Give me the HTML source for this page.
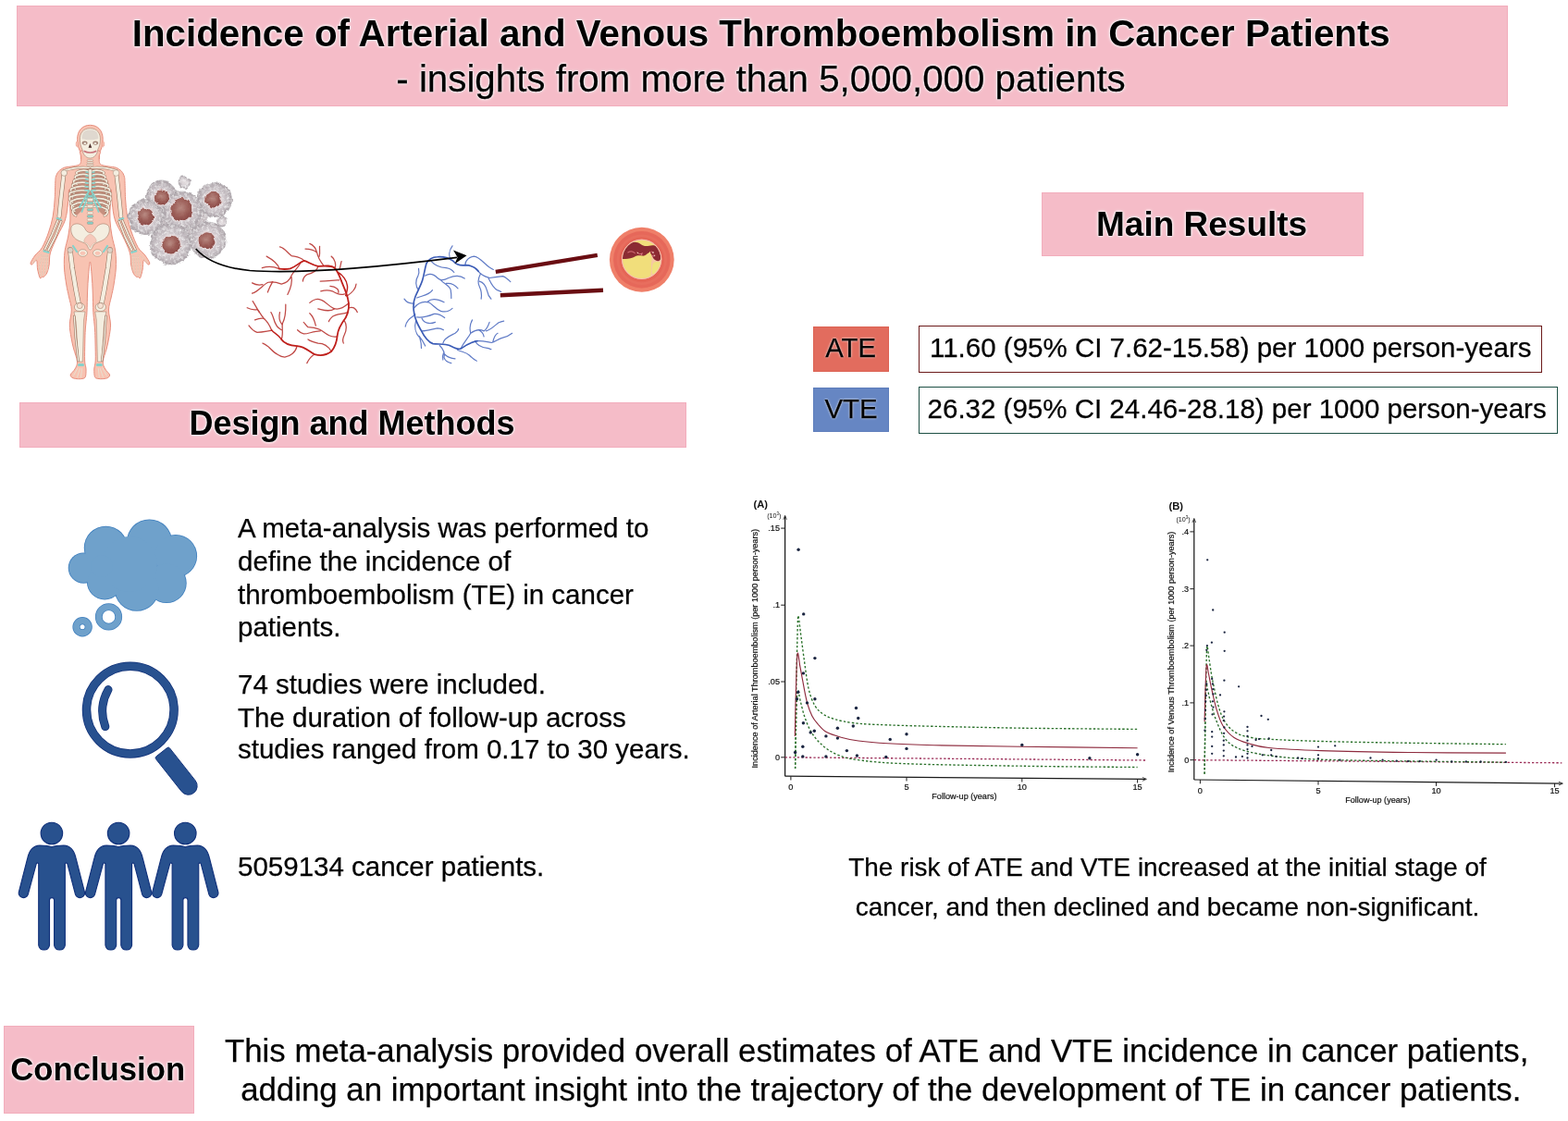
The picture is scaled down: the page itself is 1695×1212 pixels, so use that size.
<!DOCTYPE html>
<html lang="en">
<head>
<meta charset="utf-8">
<title>Incidence of Arterial and Venous Thromboembolism in Cancer Patients</title>
<style>
html,body{margin:0;padding:0;background:#fff;}
body{width:1695px;height:1212px;overflow:hidden;position:relative;font-family:"Liberation Sans",Arial,Helvetica,sans-serif;color:#000;}
#page{position:absolute;left:0;top:0;width:1695px;height:1212px;overflow:hidden;background:#fff;}
.abs{position:absolute;white-space:nowrap;}
.pink{position:absolute;background:#f5bcc8;box-shadow:inset 0 0 0 1px #f2adbc;}
.glow{text-shadow:0 0 1px #fff,0 0 2px #fff,0 0 3px #fff,0 0 4px rgba(255,255,255,.7);}
.glow2{text-shadow:0 0 1.5px rgba(255,255,255,.9),0 0 3px rgba(255,255,255,.6);}
.c{text-align:center;}
#gfx{position:absolute;left:0;top:0;width:1695px;height:1212px;}
.t{position:absolute;white-space:nowrap;line-height:1;}
.r{-webkit-text-stroke:0.25px #000;}
</style>
</head>
<body>
<div id="page">

<!-- title banner -->
<div class="pink" style="left:17.7px;top:6.4px;width:1612px;height:109.1px;"></div>
<div class="t glow c" style="left:16.8px;width:1612px;top:16.5px;font-size:40.3px;font-weight:bold;">Incidence of Arterial and Venous Thromboembolism in Cancer Patients</div>
<div class="t glow c r" style="left:16.5px;width:1612px;top:66px;font-size:40.3px;">- insights from more than 5,000,000 patients</div>

<!-- main results -->
<div class="pink" style="left:1125.6px;top:207.8px;width:348.8px;height:69.5px;"></div>
<div class="t glow c" style="left:1124.6px;width:349px;top:223.6px;font-size:37px;font-weight:bold;">Main Results</div>

<!-- design and methods -->
<div class="pink" style="left:21px;top:435px;width:721px;height:48.6px;"></div>
<div class="t glow c" style="left:20px;width:721px;top:439.6px;font-size:36px;font-weight:bold;">Design and Methods</div>

<!-- ATE / VTE -->
<div class="abs" style="left:879px;top:353px;width:82px;height:49px;background:#e26c5e;box-shadow:inset 0 0 0 1px #dc6253;"></div>
<div class="t glow2 c r" style="left:878.6px;width:82px;top:360.8px;font-size:29.3px;">ATE</div>
<div class="abs" style="left:879px;top:418.6px;width:82px;height:48.8px;background:#6686c3;box-shadow:inset 0 0 0 1px #5d7dbb;"></div>
<div class="t glow2 c r" style="left:879px;width:82px;top:427px;font-size:29.4px;">VTE</div>

<div class="abs" style="left:993px;top:352px;width:674px;height:51px;box-sizing:border-box;border:1.6px solid #6b1a1a;background:#fff;"></div>
<div class="t r" style="left:1005px;top:361px;font-size:29.5px;">11.60 (95% CI 7.62-15.58) per 1000 person-years</div>
<div class="abs" style="left:993px;top:417.8px;width:691px;height:51px;box-sizing:border-box;border:1.6px solid #1d4f44;background:#fff;"></div>
<div class="t r" style="left:1002.6px;top:427px;font-size:29.5px;">26.32 (95% CI 24.46-28.18) per 1000 person-years</div>

<!-- methods text -->
<div class="t r" style="left:257px;top:556px;font-size:29.5px;">A meta-analysis was performed to</div>
<div class="t r" style="left:257px;top:592px;font-size:29.5px;">define the incidence of</div>
<div class="t r" style="left:257px;top:628px;font-size:29.5px;">thromboembolism (TE) in cancer</div>
<div class="t r" style="left:257px;top:663px;font-size:29.5px;">patients.</div>

<div class="t r" style="left:257px;top:725px;font-size:29.5px;">74 studies were included.</div>
<div class="t r" style="left:257px;top:761px;font-size:29.5px;">The duration of follow-up across</div>
<div class="t r" style="left:257px;top:795px;font-size:29.5px;">studies ranged from 0.17 to 30 years.</div>

<div class="t r" style="left:257px;top:922px;font-size:29.5px;">5059134 cancer patients.</div>

<!-- results caption -->
<div class="t c r" style="left:862px;width:800px;top:924px;font-size:27.9px;">The risk of ATE and VTE increased at the initial stage of</div>
<div class="t c r" style="left:862px;width:800px;top:966.8px;font-size:27.9px;">cancer, and then declined and became non-significant.</div>

<!-- conclusion -->
<div class="pink" style="left:4.2px;top:1109.4px;width:205.4px;height:94.3px;"></div>
<div class="t glow c" style="left:3.2px;width:205px;top:1139.2px;font-size:34.7px;font-weight:bold;">Conclusion</div>
<div class="t c r" style="left:243px;width:1400px;top:1118.8px;font-size:34.8px;">This meta-analysis provided overall estimates of ATE and VTE incidence in cancer patients,</div>
<div class="t c r" style="left:252.3px;width:1400px;top:1160.8px;font-size:34.8px;">adding an important insight into the trajectory of the development of TE in cancer patients.</div>

<svg id="gfx" viewBox="0 0 1695 1212" width="1695" height="1212">
<!-- thought cloud -->
<g id="cloud">
  <g fill="#3f7fbe">
    <circle cx="90.3" cy="614.1" r="16.6"/><circle cx="114.4" cy="592.3" r="23.6"/><circle cx="161.5" cy="586" r="24.6"/>
    <circle cx="189.9" cy="601.2" r="23.2"/><circle cx="180" cy="630.4" r="21.7"/><circle cx="147.8" cy="636.6" r="24.2"/><circle cx="113.2" cy="629.2" r="19.3"/>
  </g>
  <g fill="#6fa1cb">
    <circle cx="90.3" cy="614.1" r="15.8"/><circle cx="114.4" cy="592.3" r="22.8"/><circle cx="161.5" cy="586" r="23.8"/>
    <circle cx="189.9" cy="601.2" r="22.4"/><circle cx="180" cy="630.4" r="20.9"/><circle cx="147.8" cy="636.6" r="23.4"/><circle cx="113.2" cy="629.2" r="18.5"/>
    <circle cx="140" cy="610" r="30"/><circle cx="110" cy="612" r="12"/>
  </g>
  <circle cx="117.5" cy="666.9" r="10.7" fill="none" stroke="#3f7fbe" stroke-width="7.8"/>
  <circle cx="117.5" cy="666.9" r="10.7" fill="none" stroke="#6fa1cb" stroke-width="6.4"/>
  <circle cx="89.1" cy="677.8" r="6.6" fill="none" stroke="#3f7fbe" stroke-width="8.2"/>
  <circle cx="89.1" cy="677.8" r="6.6" fill="none" stroke="#6fa1cb" stroke-width="6.8"/>
</g>
<!-- magnifier -->
<g id="magnifier">
  <circle cx="140.8" cy="767.6" r="47.3" fill="none" stroke="#12327a" stroke-width="9.5"/>
  <circle cx="140.8" cy="767.6" r="47.3" fill="none" stroke="#28518f" stroke-width="8"/>
  <path d="M117,745.6 A47.7,47.7 0 0 0 113.8,785.6" fill="none" stroke="#12327a" stroke-width="9" stroke-linecap="round"/>
  <path d="M117,745.6 A47.7,47.7 0 0 0 113.8,785.6" fill="none" stroke="#28518f" stroke-width="7.4" stroke-linecap="round"/>
  <g transform="translate(174.8,813.2) rotate(51.7)">
    <path d="M0,-7.5 Q0,-9.5 2,-9.5 L46.6,-9.5 A9.5,9.5 0 0 1 46.6,9.5 L2,9.5 Q0,9.5 0,7.5 Z" fill="#28518f" stroke="#12327a" stroke-width="0.9"/>
  </g>
</g>
<!-- people -->
<defs>
  <g id="person">
    <circle cx="0" cy="148" r="83"/>
    <path d="M0,252 C-30,240 -60,240 -92,240 C-140,242 -172,280 -184,335 L-250,592 A36,36 0 0 0 -181,615 L-118,382 A9,9 0 0 1 -100,386 L-100,1003 A42,42 0 0 0 -17,1003 L-17,658 A18,18 0 0 1 19,658 L19,1003 A42,42 0 0 0 102,1003 L102,386 A9,9 0 0 1 120,382 L181,615 A36,36 0 0 0 250,592 L184,335 C172,280 140,242 92,240 C60,240 30,240 0,252 Z"/>
  </g>
</defs>
<g id="people" fill="#28518e" stroke="#10307a" stroke-width="8" stroke-linejoin="round">
  <use href="#person" transform="translate(55.9,880) scale(0.14159)"/>
  <use href="#person" transform="translate(128.1,880) scale(0.14159)"/>
  <use href="#person" transform="translate(200.3,880) scale(0.14159)"/>
</g>

<g id="human">
<path d="M97.4,135.3 C106,135.3 111.2,141.5 111.2,150.5 C111.2,157 109.6,161 107.6,165 L107.4,172 L87.4,172 L87.2,165 C85.2,161 83.6,157 83.6,150.5 C83.6,141.5 88.8,135.3 97.4,135.3Z" fill="#f8c3b2" stroke="#e78f7e" stroke-width="1"/>
<ellipse cx="83.4" cy="155.8" rx="1.2" ry="3" fill="#f8c4b4" stroke="#ec9a88" stroke-width="0.7"/>
<ellipse cx="111.4" cy="155.8" rx="1.2" ry="3" fill="#f8c4b4" stroke="#ec9a88" stroke-width="0.7"/>
<path d="M87.8,163.0C84.6,164.0 87.8,167.1 87.7,169.0C87.7,170.9 87.9,173.0 87.5,174.5C87.1,176.0 87.2,177.3 85.4,178.2C83.7,179.1 79.7,179.5 77.0,180.0C74.3,180.5 71.8,180.3 69.5,181.2C67.2,182.1 64.9,183.6 63.4,185.2C61.9,186.8 61.0,189.0 60.4,191.0C59.8,193.0 60.0,193.0 59.8,197.0C59.6,201.0 59.6,208.8 59.2,215.0C58.8,221.2 58.3,228.0 57.2,234.0C56.1,240.0 54.5,245.4 52.6,251.0C50.7,256.6 48.0,263.3 45.6,267.5C43.2,271.7 40.1,273.2 38.0,276.0C35.9,278.8 33.8,282.3 33.2,284.0C32.6,285.7 33.6,286.4 34.6,286.0C35.6,285.6 38.5,280.7 39.5,281.5C40.5,282.3 40.0,287.8 40.6,291.0C41.2,294.2 42.4,299.1 43.2,300.5C44.0,301.9 44.5,299.7 45.2,299.5C45.9,299.3 46.6,299.9 47.5,299.2C48.4,298.4 49.8,297.2 50.8,295.0C51.8,292.8 52.6,289.7 53.2,286.0C53.8,282.3 53.0,278.2 54.5,273.0C56.0,267.8 59.6,260.8 62.2,255.0C64.9,249.2 68.5,243.8 70.4,238.0C72.3,232.2 72.8,225.5 73.5,220.0C74.2,214.5 74.2,204.7 74.6,205.0C74.9,205.3 75.4,216.5 75.6,222.0C75.8,227.5 76.2,232.5 75.9,238.0C75.6,243.5 74.8,249.3 73.8,255.0C72.8,260.7 70.7,266.2 70.0,272.0C69.3,277.8 69.2,284.0 69.5,290.0C69.8,296.0 71.0,302.8 71.8,308.0C72.6,313.2 73.6,316.5 74.5,321.0C75.4,325.5 77.2,330.0 77.3,335.0C77.4,340.0 75.3,346.0 75.3,351.0C75.2,356.0 76.3,360.7 77.0,365.0C77.7,369.3 78.5,372.7 79.6,377.0C80.7,381.3 83.3,387.3 83.5,391.0C83.7,394.7 82.2,396.7 81.0,399.0C79.8,401.3 76.8,403.4 76.3,405.0C75.8,406.6 76.9,407.5 78.0,408.3C79.1,409.1 81.2,409.4 83.0,409.6C84.8,409.8 87.5,409.8 89.0,409.4C90.5,409.0 91.6,409.2 92.3,407.5C93.0,405.8 93.1,401.9 93.0,399.0C92.9,396.1 91.8,394.8 91.6,390.0C91.4,385.2 91.7,375.7 91.8,370.0C91.9,364.3 92.0,361.0 92.3,356.0C92.6,351.0 93.5,344.3 93.8,340.0C94.1,335.7 94.1,334.2 94.2,330.0C94.3,325.8 94.4,320.3 94.6,315.0C94.8,309.7 95.1,303.3 95.6,298.0C96.1,292.7 96.8,283.0 97.4,283.0C98.0,283.0 98.7,292.7 99.2,298.0C99.7,303.3 100.0,309.7 100.2,315.0C100.4,320.3 100.5,325.8 100.6,330.0C100.7,334.2 100.7,335.7 101.0,340.0C101.3,344.3 102.2,351.0 102.5,356.0C102.8,361.0 102.9,364.3 103.0,370.0C103.1,375.7 103.4,385.2 103.2,390.0C103.0,394.8 101.9,396.1 101.8,399.0C101.7,401.9 101.8,405.8 102.5,407.5C103.2,409.2 104.3,409.0 105.8,409.4C107.4,409.8 110.0,409.8 111.8,409.6C113.6,409.4 115.7,409.1 116.8,408.3C117.9,407.5 119.0,406.6 118.5,405.0C118.0,403.4 115.0,401.3 113.8,399.0C112.6,396.7 111.1,394.7 111.3,391.0C111.5,387.3 114.1,381.3 115.2,377.0C116.3,372.7 117.1,369.3 117.8,365.0C118.5,360.7 119.6,356.0 119.5,351.0C119.5,346.0 117.4,340.0 117.5,335.0C117.6,330.0 119.4,325.5 120.3,321.0C121.2,316.5 122.2,313.2 123.0,308.0C123.8,302.8 125.0,296.0 125.3,290.0C125.6,284.0 125.5,277.8 124.8,272.0C124.1,266.2 122.0,260.7 121.0,255.0C120.0,249.3 119.2,243.5 118.9,238.0C118.6,232.5 119.0,227.5 119.2,222.0C119.4,216.5 119.9,205.3 120.2,205.0C120.6,204.7 120.6,214.5 121.3,220.0C122.0,225.5 122.5,232.2 124.4,238.0C126.3,243.8 130.0,249.2 132.6,255.0C135.3,260.8 138.8,267.8 140.3,273.0C141.8,278.2 141.0,282.3 141.6,286.0C142.2,289.7 143.1,292.8 144.0,295.0C144.9,297.2 146.4,298.4 147.3,299.2C148.2,299.9 148.9,299.3 149.6,299.5C150.3,299.7 150.8,301.9 151.6,300.5C152.4,299.1 153.6,294.2 154.2,291.0C154.8,287.8 154.3,282.3 155.3,281.5C156.3,280.7 159.2,285.6 160.2,286.0C161.3,286.4 162.2,285.7 161.6,284.0C161.0,282.3 158.9,278.8 156.8,276.0C154.7,273.2 151.6,271.7 149.2,267.5C146.8,263.3 144.1,256.6 142.2,251.0C140.3,245.4 138.7,240.0 137.6,234.0C136.5,228.0 136.0,221.2 135.6,215.0C135.2,208.8 135.2,201.0 135.0,197.0C134.8,193.0 135.0,193.0 134.4,191.0C133.8,189.0 132.9,186.8 131.4,185.2C129.9,183.6 127.6,182.1 125.3,181.2C123.0,180.3 120.5,180.5 117.8,180.0C115.2,179.5 111.2,179.1 109.4,178.2C107.7,177.3 107.7,176.0 107.3,174.5C106.9,173.0 107.2,170.9 107.1,169.0C107.1,167.1 110.2,164.0 107.0,163.0C103.8,162.0 91.0,162.0 87.8,163.0Z" fill="#f8c3b2" stroke="#e78f7e" stroke-width="1" stroke-linejoin="round"/>
<g><path d="M97.4,138.8 C105,138.8 108.6,144 108.4,151 C108.3,155.5 107.4,158.5 105.8,161.5 C105.4,166 102.4,171 97.4,171 C92.4,171 89.4,166 89,161.5 C87.4,158.5 86.5,155.5 86.4,151 C86.2,144 89.8,138.8 97.4,138.8Z" fill="#f4eee0" stroke="#94705c" stroke-width="0.5"/>
<ellipse cx="91.6" cy="154.6" rx="2.9" ry="2.1" fill="#a08274"/><ellipse cx="103.2" cy="154.6" rx="2.9" ry="2.1" fill="#a08274"/><ellipse cx="91.8" cy="155" rx="1.5" ry="1" fill="#f3ede0"/><ellipse cx="103" cy="155" rx="1.5" ry="1" fill="#f3ede0"/>
<path d="M97.4,155 L95.6,159.8 L99.2,159.8Z" fill="#4a2a26"/>
<path d="M90.5,163.2 Q97.4,166.8 104.3,163.2" fill="none" stroke="#c9727a" stroke-width="1.6"/>
<path d="M88.5,150 C88.5,142 92,140.5 97.4,140.5 C102.8,140.5 106.3,142 106.3,150 Q97.4,152.5 88.5,150Z" fill="#ddd5cd" opacity="0.9"/>
<rect x="94.2" y="172.6" width="6.4" height="1.7" rx="0.8" fill="#f4eee0" stroke="#94705c" stroke-width="0.35"/>
<rect x="93.9" y="175" width="7.0" height="1.7" rx="0.8" fill="#f4eee0" stroke="#94705c" stroke-width="0.35"/>
<rect x="93.6" y="177.4" width="7.6" height="1.7" rx="0.8" fill="#f4eee0" stroke="#94705c" stroke-width="0.35"/>
<rect x="93.3" y="179.8" width="8.2" height="1.7" rx="0.8" fill="#f4eee0" stroke="#94705c" stroke-width="0.35"/>
<path d="M96,181.5 Q84,180 69,184.5" fill="none" stroke="#94705c" stroke-width="2.6" stroke-linecap="round"/><path d="M96,181.5 Q84,180 69,184.5" fill="none" stroke="#f4eee0" stroke-width="1.8" stroke-linecap="round"/>
<path d="M99,181.5 Q111,180 126,184.5" fill="none" stroke="#94705c" stroke-width="2.6" stroke-linecap="round"/><path d="M99,181.5 Q111,180 126,184.5" fill="none" stroke="#f4eee0" stroke-width="1.8" stroke-linecap="round"/>
<path d="M97.5,182 C86,182 78,190 76.5,205 C75.5,218 78,228 82,233 C88,230 93,222 97.5,212 C102,222 107,230 113,233 C117,228 119.5,218 118.5,205 C117,190 109,182 97.5,182Z" fill="#b07a69" opacity="0.7"/>
<path d="M95.3,185.0 Q89.2,182.8 83.0,186.1 Q81.5,188.0 86.0,189.5" fill="none" stroke="#94705c" stroke-width="2.5" stroke-linecap="round"/>
<path d="M95.3,185.0 Q89.2,182.8 83.0,186.1 Q81.5,188.0 86.0,189.5" fill="none" stroke="#f4eee0" stroke-width="1.7" stroke-linecap="round"/>
<path d="M99.7,185.0 Q105.8,182.8 112.0,186.1 Q113.5,188.0 109.0,189.5" fill="none" stroke="#94705c" stroke-width="2.5" stroke-linecap="round"/>
<path d="M99.7,185.0 Q105.8,182.8 112.0,186.1 Q113.5,188.0 109.0,189.5" fill="none" stroke="#f4eee0" stroke-width="1.7" stroke-linecap="round"/>
<path d="M95.3,189.3 Q88.4,187.1 81.5,190.5 Q80.0,192.9 84.5,194.4" fill="none" stroke="#94705c" stroke-width="2.5" stroke-linecap="round"/>
<path d="M95.3,189.3 Q88.4,187.1 81.5,190.5 Q80.0,192.9 84.5,194.4" fill="none" stroke="#f4eee0" stroke-width="1.7" stroke-linecap="round"/>
<path d="M99.7,189.3 Q106.6,187.1 113.5,190.5 Q115.0,192.9 110.5,194.4" fill="none" stroke="#94705c" stroke-width="2.5" stroke-linecap="round"/>
<path d="M99.7,189.3 Q106.6,187.1 113.5,190.5 Q115.0,192.9 110.5,194.4" fill="none" stroke="#f4eee0" stroke-width="1.7" stroke-linecap="round"/>
<path d="M95.3,193.6 Q87.7,191.4 80.0,195.0 Q78.5,197.7 83.0,199.2" fill="none" stroke="#94705c" stroke-width="2.5" stroke-linecap="round"/>
<path d="M95.3,193.6 Q87.7,191.4 80.0,195.0 Q78.5,197.7 83.0,199.2" fill="none" stroke="#f4eee0" stroke-width="1.7" stroke-linecap="round"/>
<path d="M99.7,193.6 Q107.3,191.4 115.0,195.0 Q116.5,197.7 112.0,199.2" fill="none" stroke="#94705c" stroke-width="2.5" stroke-linecap="round"/>
<path d="M99.7,193.6 Q107.3,191.4 115.0,195.0 Q116.5,197.7 112.0,199.2" fill="none" stroke="#f4eee0" stroke-width="1.7" stroke-linecap="round"/>
<path d="M95.3,197.9 Q86.9,195.7 78.5,199.5 Q77.0,202.6 81.5,204.1" fill="none" stroke="#94705c" stroke-width="2.5" stroke-linecap="round"/>
<path d="M95.3,197.9 Q86.9,195.7 78.5,199.5 Q77.0,202.6 81.5,204.1" fill="none" stroke="#f4eee0" stroke-width="1.7" stroke-linecap="round"/>
<path d="M99.7,197.9 Q108.1,195.7 116.5,199.5 Q118.0,202.6 113.5,204.1" fill="none" stroke="#94705c" stroke-width="2.5" stroke-linecap="round"/>
<path d="M99.7,197.9 Q108.1,195.7 116.5,199.5 Q118.0,202.6 113.5,204.1" fill="none" stroke="#f4eee0" stroke-width="1.7" stroke-linecap="round"/>
<path d="M95.3,202.2 Q86.2,200.0 77.0,204.0 Q75.5,207.4 80.0,208.9" fill="none" stroke="#94705c" stroke-width="2.5" stroke-linecap="round"/>
<path d="M95.3,202.2 Q86.2,200.0 77.0,204.0 Q75.5,207.4 80.0,208.9" fill="none" stroke="#f4eee0" stroke-width="1.7" stroke-linecap="round"/>
<path d="M99.7,202.2 Q108.8,200.0 118.0,204.0 Q119.5,207.4 115.0,208.9" fill="none" stroke="#94705c" stroke-width="2.5" stroke-linecap="round"/>
<path d="M99.7,202.2 Q108.8,200.0 118.0,204.0 Q119.5,207.4 115.0,208.9" fill="none" stroke="#f4eee0" stroke-width="1.7" stroke-linecap="round"/>
<path d="M95.3,206.5 Q85.4,204.3 75.5,208.5 Q74.0,212.2 78.5,213.8" fill="none" stroke="#94705c" stroke-width="2.5" stroke-linecap="round"/>
<path d="M95.3,206.5 Q85.4,204.3 75.5,208.5 Q74.0,212.2 78.5,213.8" fill="none" stroke="#f4eee0" stroke-width="1.7" stroke-linecap="round"/>
<path d="M99.7,206.5 Q109.6,204.3 119.5,208.5 Q121.0,212.2 116.5,213.8" fill="none" stroke="#94705c" stroke-width="2.5" stroke-linecap="round"/>
<path d="M99.7,206.5 Q109.6,204.3 119.5,208.5 Q121.0,212.2 116.5,213.8" fill="none" stroke="#f4eee0" stroke-width="1.7" stroke-linecap="round"/>
<path d="M95.3,210.8 Q85.4,208.6 75.5,213.0 Q74.0,217.1 78.5,218.6" fill="none" stroke="#94705c" stroke-width="2.5" stroke-linecap="round"/>
<path d="M95.3,210.8 Q85.4,208.6 75.5,213.0 Q74.0,217.1 78.5,218.6" fill="none" stroke="#f4eee0" stroke-width="1.7" stroke-linecap="round"/>
<path d="M99.7,210.8 Q109.6,208.6 119.5,213.0 Q121.0,217.1 116.5,218.6" fill="none" stroke="#94705c" stroke-width="2.5" stroke-linecap="round"/>
<path d="M99.7,210.8 Q109.6,208.6 119.5,213.0 Q121.0,217.1 116.5,218.6" fill="none" stroke="#f4eee0" stroke-width="1.7" stroke-linecap="round"/>
<path d="M95.3,215.1 Q86.0,212.9 76.7,217.5 Q75.2,221.9 79.7,223.4" fill="none" stroke="#94705c" stroke-width="2.5" stroke-linecap="round"/>
<path d="M95.3,215.1 Q86.0,212.9 76.7,217.5 Q75.2,221.9 79.7,223.4" fill="none" stroke="#f4eee0" stroke-width="1.7" stroke-linecap="round"/>
<path d="M99.7,215.1 Q109.0,212.9 118.3,217.5 Q119.8,221.9 115.3,223.4" fill="none" stroke="#94705c" stroke-width="2.5" stroke-linecap="round"/>
<path d="M99.7,215.1 Q109.0,212.9 118.3,217.5 Q119.8,221.9 115.3,223.4" fill="none" stroke="#f4eee0" stroke-width="1.7" stroke-linecap="round"/>
<path d="M95.3,219.4 Q86.6,217.2 77.9,222.0 Q76.4,226.8 80.9,228.3" fill="none" stroke="#94705c" stroke-width="2.5" stroke-linecap="round"/>
<path d="M95.3,219.4 Q86.6,217.2 77.9,222.0 Q76.4,226.8 80.9,228.3" fill="none" stroke="#f4eee0" stroke-width="1.7" stroke-linecap="round"/>
<path d="M99.7,219.4 Q108.4,217.2 117.1,222.0 Q118.6,226.8 114.1,228.3" fill="none" stroke="#94705c" stroke-width="2.5" stroke-linecap="round"/>
<path d="M99.7,219.4 Q108.4,217.2 117.1,222.0 Q118.6,226.8 114.1,228.3" fill="none" stroke="#f4eee0" stroke-width="1.7" stroke-linecap="round"/>
<path d="M95.3,223.7 Q87.2,221.5 79.1,226.5 Q77.6,231.6 82.1,233.1" fill="none" stroke="#94705c" stroke-width="2.5" stroke-linecap="round"/>
<path d="M95.3,223.7 Q87.2,221.5 79.1,226.5 Q77.6,231.6 82.1,233.1" fill="none" stroke="#f4eee0" stroke-width="1.7" stroke-linecap="round"/>
<path d="M99.7,223.7 Q107.8,221.5 115.9,226.5 Q117.4,231.6 112.9,233.1" fill="none" stroke="#94705c" stroke-width="2.5" stroke-linecap="round"/>
<path d="M99.7,223.7 Q107.8,221.5 115.9,226.5 Q117.4,231.6 112.9,233.1" fill="none" stroke="#f4eee0" stroke-width="1.7" stroke-linecap="round"/>
<path d="M96.5,206 L86,224 M98.5,206 L109,224 M95.5,211 L88.5,229 M99.5,211 L106.5,229" stroke="#86d2cb" stroke-width="1.8" fill="none" stroke-linecap="round"/>
<path d="M93.0,186.0 L96.2,186.6 M102.0,186.0 L98.8,186.6" stroke="#86d2cb" stroke-width="1.5" fill="none" stroke-linecap="round"/>
<path d="M92.8,189.9 L96.2,190.5 M102.2,189.9 L98.8,190.5" stroke="#86d2cb" stroke-width="1.5" fill="none" stroke-linecap="round"/>
<path d="M92.6,193.8 L96.2,194.4 M102.4,193.8 L98.8,194.4" stroke="#86d2cb" stroke-width="1.5" fill="none" stroke-linecap="round"/>
<path d="M92.4,197.7 L96.2,198.3 M102.6,197.7 L98.8,198.3" stroke="#86d2cb" stroke-width="1.5" fill="none" stroke-linecap="round"/>
<path d="M92.2,201.6 L96.2,202.2 M102.8,201.6 L98.8,202.2" stroke="#86d2cb" stroke-width="1.5" fill="none" stroke-linecap="round"/>
<path d="M92.0,205.5 L96.2,206.1 M103.0,205.5 L98.8,206.1" stroke="#86d2cb" stroke-width="1.5" fill="none" stroke-linecap="round"/>
<path d="M95.8,183 L99.2,183 L98.9,205 Q97.5,208 96.1,205Z" fill="#f4eee0" stroke="#94705c" stroke-width="0.4"/>
<rect x="94.3" y="211.0" width="6.4" height="2.6" rx="1" fill="#86d2cb" stroke="#94705c" stroke-width="0.3"/>
<rect x="94.3" y="214.6" width="6.4" height="2.6" rx="1" fill="#f4eee0" stroke="#94705c" stroke-width="0.3"/>
<rect x="94.3" y="218.2" width="6.4" height="2.6" rx="1" fill="#86d2cb" stroke="#94705c" stroke-width="0.3"/>
<rect x="94.3" y="221.8" width="6.4" height="2.6" rx="1" fill="#f4eee0" stroke="#94705c" stroke-width="0.3"/>
<rect x="94.3" y="225.4" width="6.4" height="2.6" rx="1" fill="#86d2cb" stroke="#94705c" stroke-width="0.3"/>
<rect x="94.3" y="229.0" width="6.4" height="2.6" rx="1" fill="#f4eee0" stroke="#94705c" stroke-width="0.3"/>
<rect x="94.3" y="232.6" width="6.4" height="2.6" rx="1" fill="#86d2cb" stroke="#94705c" stroke-width="0.3"/>
<rect x="94.3" y="236.2" width="6.4" height="2.6" rx="1" fill="#f4eee0" stroke="#94705c" stroke-width="0.3"/>
<rect x="94.3" y="239.8" width="6.4" height="2.6" rx="1" fill="#86d2cb" stroke="#94705c" stroke-width="0.3"/>
<path d="M77.5,244.5 C80.5,240.5 88,241 91.5,246.5 C93,250 95,251.5 97.5,251.5 C100,251.5 102,250 103.5,246.5 C107,241 114.5,240.5 117.5,244.5 C119.5,249 117.5,255 113,258.5 C109,261.5 104,261.5 101,265 C99.5,268 99,270 97.5,270 C96,270 95.5,268 94,265 C91,261.5 86,261.5 82,258.5 C77.5,255 75.5,249 77.5,244.5Z" fill="#f4eee0" stroke="#94705c" stroke-width="0.5"/>
<path d="M97.5,253 C93,255 90,259 91,262 C94,262.5 96,265 97.5,268 C99,265 101,262.5 104,262 C105,259 102,255 97.5,253Z" fill="#f6c9bb" stroke="#b58d78" stroke-width="0.3"/>
<ellipse cx="89.5" cy="273.5" rx="5" ry="3.8" fill="#f4eee0" stroke="#94705c" stroke-width="0.45"/><ellipse cx="105.5" cy="273.5" rx="5" ry="3.8" fill="#f4eee0" stroke="#94705c" stroke-width="0.45"/>
<ellipse cx="89.5" cy="273.8" rx="2.9" ry="2" fill="#f8c4b4"/><ellipse cx="105.5" cy="273.8" rx="2.9" ry="2" fill="#f8c4b4"/>
<path d="M79,266 L83,272 M116,266 L112,272" stroke="#86d2cb" stroke-width="2.2" stroke-linecap="round"/>
<path d="M69.0,188.0 L66.2,212.0 L64.0,234.0" fill="none" stroke="#94705c" stroke-width="4.7" stroke-linecap="round" stroke-linejoin="round"/><path d="M69.0,188.0 L66.2,212.0 L64.0,234.0" fill="none" stroke="#f4eee0" stroke-width="3.6" stroke-linecap="round" stroke-linejoin="round"/><path d="M125.8,188.0 L128.6,212.0 L130.8,234.0" fill="none" stroke="#94705c" stroke-width="4.7" stroke-linecap="round" stroke-linejoin="round"/><path d="M125.8,188.0 L128.6,212.0 L130.8,234.0" fill="none" stroke="#f4eee0" stroke-width="3.6" stroke-linecap="round" stroke-linejoin="round"/>
<circle cx="69.3" cy="187" r="3.3" fill="#f4eee0" stroke="#94705c" stroke-width="0.5"/><circle cx="125.5" cy="187" r="3.3" fill="#f4eee0" stroke="#94705c" stroke-width="0.4"/>
<path d="M61.5,236 L66,237.5 M133.3,236 L128.8,237.5" stroke="#86d2cb" stroke-width="2" stroke-linecap="round"/>
<path d="M62.5,238.5 L56.0,254.0 L48.6,269.5" fill="none" stroke="#94705c" stroke-width="2.8" stroke-linecap="round" stroke-linejoin="round"/><path d="M62.5,238.5 L56.0,254.0 L48.6,269.5" fill="none" stroke="#f4eee0" stroke-width="1.7" stroke-linecap="round" stroke-linejoin="round"/><path d="M132.3,238.5 L138.8,254.0 L146.2,269.5" fill="none" stroke="#94705c" stroke-width="2.8" stroke-linecap="round" stroke-linejoin="round"/><path d="M132.3,238.5 L138.8,254.0 L146.2,269.5" fill="none" stroke="#f4eee0" stroke-width="1.7" stroke-linecap="round" stroke-linejoin="round"/>
<path d="M66.0,239.5 L59.6,256.0 L52.2,270.5" fill="none" stroke="#94705c" stroke-width="2.8" stroke-linecap="round" stroke-linejoin="round"/><path d="M66.0,239.5 L59.6,256.0 L52.2,270.5" fill="none" stroke="#f4eee0" stroke-width="1.7" stroke-linecap="round" stroke-linejoin="round"/><path d="M128.8,239.5 L135.2,256.0 L142.6,270.5" fill="none" stroke="#94705c" stroke-width="2.8" stroke-linecap="round" stroke-linejoin="round"/><path d="M128.8,239.5 L135.2,256.0 L142.6,270.5" fill="none" stroke="#f4eee0" stroke-width="1.7" stroke-linecap="round" stroke-linejoin="round"/>
<path d="M47.5,271.5 L52.5,273 M147.3,271.5 L142.3,273" stroke="#86d2cb" stroke-width="2.2" stroke-linecap="round"/>
<path d="M46.0,276.0 L42.5,288.0 L43.5,298.0 M148.8,276.0 L152.3,288.0 L151.3,298.0" fill="none" stroke="#e9dccb" stroke-width="0.9" stroke-linecap="round" stroke-linejoin="round"/>
<path d="M46.0,276.0 L42.5,288.0 L43.5,298.0 M148.8,276.0 L152.3,288.0 L151.3,298.0" fill="none" stroke="#c99a86" stroke-width="0.3" stroke-linecap="round" stroke-linejoin="round" stroke-dasharray="2 1.5"/>
<path d="M48.0,276.0 L45.5,289.0 L46.0,298.0 M146.8,276.0 L149.3,289.0 L148.8,298.0" fill="none" stroke="#e9dccb" stroke-width="0.9" stroke-linecap="round" stroke-linejoin="round"/>
<path d="M48.0,276.0 L45.5,289.0 L46.0,298.0 M146.8,276.0 L149.3,289.0 L148.8,298.0" fill="none" stroke="#c99a86" stroke-width="0.3" stroke-linecap="round" stroke-linejoin="round" stroke-dasharray="2 1.5"/>
<path d="M50.0,276.0 L48.5,288.0 L48.5,296.0 M144.8,276.0 L146.3,288.0 L146.3,296.0" fill="none" stroke="#e9dccb" stroke-width="0.9" stroke-linecap="round" stroke-linejoin="round"/>
<path d="M50.0,276.0 L48.5,288.0 L48.5,296.0 M144.8,276.0 L146.3,288.0 L146.3,296.0" fill="none" stroke="#c99a86" stroke-width="0.3" stroke-linecap="round" stroke-linejoin="round" stroke-dasharray="2 1.5"/>
<path d="M51.5,276.0 L51.5,286.0 L51.5,292.0 M143.3,276.0 L143.3,286.0 L143.3,292.0" fill="none" stroke="#e9dccb" stroke-width="0.9" stroke-linecap="round" stroke-linejoin="round"/>
<path d="M51.5,276.0 L51.5,286.0 L51.5,292.0 M143.3,276.0 L143.3,286.0 L143.3,292.0" fill="none" stroke="#c99a86" stroke-width="0.3" stroke-linecap="round" stroke-linejoin="round" stroke-dasharray="2 1.5"/>
<path d="M45.0,275.0 L39.5,280.0 L35.0,284.5 M149.8,275.0 L155.3,280.0 L159.8,284.5" fill="none" stroke="#e9dccb" stroke-width="0.9" stroke-linecap="round" stroke-linejoin="round"/>
<path d="M45.0,275.0 L39.5,280.0 L35.0,284.5 M149.8,275.0 L155.3,280.0 L159.8,284.5" fill="none" stroke="#c99a86" stroke-width="0.3" stroke-linecap="round" stroke-linejoin="round" stroke-dasharray="2 1.5"/>
<path d="M75.8,270.0 L78.2,290.0 L82.0,313.0 L85.5,331.0" fill="none" stroke="#94705c" stroke-width="5.300000000000001" stroke-linecap="round" stroke-linejoin="round"/><path d="M75.8,270.0 L78.2,290.0 L82.0,313.0 L85.5,331.0" fill="none" stroke="#f4eee0" stroke-width="4.2" stroke-linecap="round" stroke-linejoin="round"/><path d="M119.0,270.0 L116.6,290.0 L112.8,313.0 L109.3,331.0" fill="none" stroke="#94705c" stroke-width="5.300000000000001" stroke-linecap="round" stroke-linejoin="round"/><path d="M119.0,270.0 L116.6,290.0 L112.8,313.0 L109.3,331.0" fill="none" stroke="#f4eee0" stroke-width="4.2" stroke-linecap="round" stroke-linejoin="round"/>
<circle cx="76" cy="270.5" r="3" fill="#dcd2c6" stroke="#94705c" stroke-width="0.4"/><circle cx="118.8" cy="270.5" r="3" fill="#dcd2c6" stroke="#94705c" stroke-width="0.4"/>
<ellipse cx="86" cy="332" rx="5.6" ry="4.6" fill="#f4eee0" stroke="#94705c" stroke-width="0.5"/><ellipse cx="108.8" cy="332" rx="5.6" ry="4.6" fill="#f4eee0" stroke="#94705c" stroke-width="0.5"/>
<ellipse cx="86.2" cy="330.5" rx="3" ry="3.1" fill="#f7e1d3" stroke="#94705c" stroke-width="0.5"/><ellipse cx="108.6" cy="330.5" rx="3" ry="3.1" fill="#f7e1d3" stroke="#94705c" stroke-width="0.5"/>
<path d="M80,337 L92,337 L90.5,346 L89.3,391 L84.8,391 L82.2,348Z" fill="#f4eee0" stroke="#94705c" stroke-width="0.45"/>
<path d="M114.8,337 L102.8,337 L104.3,346 L105.5,391 L110,391 L112.6,348Z" fill="#f4eee0" stroke="#94705c" stroke-width="0.45"/>
<path d="M80.3,342.0 L81.8,365.0 L84.6,390.0" fill="none" stroke="#94705c" stroke-width="2.4000000000000004" stroke-linecap="round" stroke-linejoin="round"/><path d="M80.3,342.0 L81.8,365.0 L84.6,390.0" fill="none" stroke="#f4eee0" stroke-width="1.3" stroke-linecap="round" stroke-linejoin="round"/><path d="M114.5,342.0 L113.0,365.0 L110.2,390.0" fill="none" stroke="#94705c" stroke-width="2.4000000000000004" stroke-linecap="round" stroke-linejoin="round"/><path d="M114.5,342.0 L113.0,365.0 L110.2,390.0" fill="none" stroke="#f4eee0" stroke-width="1.3" stroke-linecap="round" stroke-linejoin="round"/>
<path d="M85.5,394.5 L89.5,394.5 M105.3,394.5 L109.3,394.5" stroke="#86d2cb" stroke-width="3" stroke-linecap="round"/>
<path d="M84,398 L79.5,406 M86.5,398.5 L83.5,407.5 M88.5,398.5 L87.5,407.5 M110.8,398 L115.3,406 M108.3,398.5 L111.3,407.5 M106.3,398.5 L107.3,407.5" stroke="#eadfce" stroke-width="1" stroke-linecap="round"/></g>
</g>

<defs>
  <radialGradient id="cellg" cx="50%" cy="50%" r="50%">
    <stop offset="0" stop-color="#e9e3e5"/><stop offset="0.5" stop-color="#d3ccd0"/><stop offset="0.82" stop-color="#bdb5ba"/><stop offset="1" stop-color="#aaa2a7"/>
  </radialGradient>
  <radialGradient id="nucg" cx="45%" cy="40%" r="60%">
    <stop offset="0" stop-color="#b88a82"/><stop offset="0.6" stop-color="#9b5d57"/><stop offset="1" stop-color="#884845"/>
  </radialGradient>
  <filter id="rough" x="-20%" y="-20%" width="140%" height="140%">
    <feTurbulence type="fractalNoise" baseFrequency="0.16" numOctaves="2" seed="7" result="n"/>
    <feDisplacementMap in="SourceGraphic" in2="n" scale="5" xChannelSelector="R" yChannelSelector="G"/>
  </filter>
  <filter id="tex" x="-10%" y="-10%" width="120%" height="120%">
    <feTurbulence type="fractalNoise" baseFrequency="0.35" numOctaves="2" seed="3" result="n"/>
    <feColorMatrix in="n" type="matrix" values="0 0 0 0 1  0 0 0 0 1  0 0 0 0 1  1.6 0 0 0 -0.7" result="a"/>
    <feComposite in="a" in2="SourceGraphic" operator="in" result="b"/>
    <feMerge><feMergeNode in="SourceGraphic"/><feMergeNode in="b"/></feMerge>
  </filter>
</defs>
<g id="cells">
  <g filter="url(#rough)">
    <g filter="url(#tex)" stroke="#aaa3a8" stroke-width="0.8">
      <circle cx="199.3" cy="197" r="6.3" fill="url(#cellg)"/>
      <circle cx="200" cy="246" r="14" fill="#c5bcc0" stroke="none"/><circle cx="214" cy="236" r="10" fill="#c5bcc0" stroke="none"/><circle cx="178" cy="238" r="9" fill="#c5bcc0" stroke="none"/>
      <circle cx="240" cy="239.5" r="5.5" fill="url(#cellg)"/>
      <circle cx="174.5" cy="213" r="17" fill="url(#cellg)"/>
      <circle cx="232" cy="216" r="18.5" fill="url(#cellg)"/>
      <circle cx="157.5" cy="234.5" r="19" fill="url(#cellg)"/>
      <circle cx="197" cy="228" r="21" fill="url(#cellg)"/>
      <circle cx="184.5" cy="264" r="22" fill="url(#cellg)"/>
      <circle cx="224.5" cy="259.5" r="19.5" fill="url(#cellg)"/>
    </g>
  </g>
  <g filter="url(#rough)">
    <g stroke="#e6d9da" stroke-width="1.2">
      <circle cx="174.8" cy="213.5" r="8.6" fill="url(#nucg)"/>
      <circle cx="230.5" cy="216.2" r="9" fill="url(#nucg)"/>
      <circle cx="157.3" cy="234" r="9.6" fill="url(#nucg)"/>
      <circle cx="196.3" cy="227" r="12.5" fill="url(#nucg)"/>
      <circle cx="185" cy="264.7" r="10.5" fill="url(#nucg)"/>
      <circle cx="223.6" cy="260.2" r="9.6" fill="url(#nucg)"/>
    </g>
  </g>
</g>

<g id="arterytree" transform="translate(260,255) scale(0.11966)" fill="none" stroke-linecap="round" stroke-linejoin="round">
  <g stroke="#b93632" stroke-width="10.5" opacity="0.9">
    <path d="M575,225 C540,190 500,190 460,180 C420,150 400,110 355,100"/>
    <path d="M750,268 C720,230 700,200 690,150 C680,110 650,80 625,70 M690,150 C660,125 620,118 585,118 M712,185 C720,150 712,120 715,95"/>
    <path d="M850,292 C870,262 850,205 820,185 M895,300 C905,270 905,250 912,230"/>
    <path d="M890,400 C850,395 800,410 720,410"/>
    <path d="M940,525 C900,540 860,520 830,500 C800,490 760,490 725,500 M885,512 C890,480 860,460 810,455"/>
    <path d="M960,545 C1000,520 1040,490 1045,435"/>
    <path d="M975,610 C930,650 880,670 840,655 C800,640 770,590 720,575 C690,565 650,580 625,605 M850,660 C800,690 750,670 700,660"/>
    <path d="M970,690 C920,710 870,700 830,730 C810,750 800,760 797,775"/>
    <path d="M985,650 C1010,640 1040,650 1055,690"/>
    <path d="M940,770 C960,800 960,850 940,890 C925,920 920,950 930,970"/>
    <path d="M870,910 C820,920 780,890 740,860 C700,830 660,830 610,825 C590,810 580,790 570,780 M680,812 C670,770 660,730 625,700 M720,860 C660,860 600,890 570,885 C540,880 525,860 515,850"/>
    <path d="M820,1045 C790,990 750,970 700,970 C660,960 630,950 610,935"/>
    <path d="M510,995 C500,1050 450,1090 400,1095 C340,1095 290,1040 250,1000 C230,985 215,975 200,970"/>
    <path d="M370,935 C390,880 370,820 380,790 C400,750 410,700 408,620 M375,800 C350,770 345,730 355,690 M370,850 C330,830 310,790 300,750 C290,720 285,705 275,690"/>
    <path d="M280,855 C240,860 200,870 150,872 C110,860 90,830 75,810"/>
    <path d="M215,748 C190,742 160,748 130,760 M170,690 C150,660 130,620 110,590 M150,665 C120,670 90,665 60,650"/>
    <path d="M545,240 C520,290 480,320 460,360 C440,410 400,430 370,435 C330,420 290,410 250,420 C200,440 170,500 105,520 M460,370 C470,420 450,480 425,530 M290,415 C270,450 255,480 245,510 M200,440 C160,450 130,440 105,425"/>
    <path d="M350,298 C340,250 290,215 235,185 M350,298 C310,280 250,270 195,290"/>
    <path d="M700,278 C690,320 640,340 600,350 C575,365 565,390 563,410"/>
    <path d="M600,1150 C620,1110 650,1080 670,1070"/>
    <path d="M280,850 C260,800 240,770 210,745 C180,710 170,680 150,665"/>
  </g>
  <g stroke="#bf1f1b" stroke-width="15">
    <path d="M370,935 C400,980 450,990 510,995 C590,1000 620,1050 670,1070 C720,1085 780,1075 820,1045 C860,1000 870,950 875,900 C880,840 920,780 950,740 C980,680 985,620 970,570 C960,520 940,480 920,430 C900,380 880,320 850,290 C820,265 770,270 700,275 C650,265 610,235 575,225 C530,240 500,280 450,295 C410,305 370,300 350,298"/>
    <path d="M880,330 C920,350 960,400 965,450 C970,480 960,510 950,540" stroke-width="12"/>
    <path d="M370,935 C340,890 300,880 280,850" stroke-width="12"/>
  </g>
</g>
<g id="veintree" transform="translate(425,255) scale(0.11966)" fill="none" stroke-linecap="round" stroke-linejoin="round">
  <g stroke="#4f6dc0" stroke-width="10" opacity="0.9">
    <path d="M650,265 C650,220 690,190 730,185 C780,190 820,250 870,285 C885,295 895,300 905,305"/>
    <path d="M790,340 C770,380 760,420 780,460 C800,500 800,540 795,570 M780,410 C820,420 840,460 850,500 C855,530 870,555 885,570"/>
    <path d="M770,320 C800,360 840,370 870,380 C900,375 940,370 990,365 C1020,375 1040,395 1060,415 M860,380 C880,420 900,470 940,490 C955,495 965,500 975,505"/>
    <path d="M520,215 C500,180 505,130 535,90"/>
    <path d="M345,230 C380,270 430,285 480,290 C510,295 535,310 550,330"/>
    <path d="M290,360 C330,335 370,350 400,380 C430,410 460,400 500,380 C550,360 600,350 645,385 M430,400 C470,440 510,450 520,490 C525,520 525,545 525,565 M480,430 C520,425 560,445 585,475"/>
    <path d="M230,490 C200,460 200,400 225,360 C235,340 235,320 230,295"/>
    <path d="M215,560 C260,540 320,540 355,490"/>
    <path d="M190,610 C150,615 120,600 100,570"/>
    <path d="M190,650 C230,600 280,590 320,600 C360,620 380,660 430,680 C470,690 510,680 535,655 M310,595 C350,560 400,570 460,600"/>
    <path d="M200,710 C160,740 120,760 110,820"/>
    <path d="M215,735 C260,740 310,730 370,705 C410,700 440,720 465,740 M260,745 C280,790 330,800 380,780"/>
    <path d="M205,770 C190,820 200,880 240,920 C250,950 255,980 255,1015 M235,905 C255,930 275,960 290,995"/>
    <path d="M260,860 C310,860 360,840 400,835 C420,835 440,840 455,850"/>
    <path d="M450,970 C460,920 520,900 560,880 C580,865 590,850 590,840"/>
    <path d="M420,990 C450,1020 470,1060 460,1100 C470,1130 500,1145 525,1150 M465,1070 C490,1095 520,1108 560,1110 M455,1060 C445,1080 445,1100 450,1120"/>
    <path d="M580,1030 C620,1050 660,1050 690,1080 C710,1100 730,1120 755,1130"/>
    <path d="M610,1020 C640,960 680,920 700,880 C690,840 690,800 715,760 M700,880 C740,850 780,840 820,860 C850,840 860,810 870,780 M770,850 C795,860 815,880 820,910"/>
    <path d="M740,950 C760,990 810,1010 850,1015 C865,1018 875,1022 885,1025"/>
    <path d="M760,950 C810,945 850,960 890,965 C920,960 950,930 990,920 C1020,915 1050,900 1075,880 M900,960 C910,920 920,890 945,880 M840,860 C880,850 920,810 950,785 C965,778 985,772 1000,770"/>
  </g>
  <g stroke="#3a5bb6" stroke-width="14">
    <path d="M770,320 C740,280 700,265 650,265 C610,270 570,260 540,225 C500,200 450,185 400,190 C360,190 320,210 300,250 C285,300 280,350 265,400 C250,450 220,500 200,550 C180,600 180,650 190,700 C200,760 220,800 250,850 C280,910 310,960 360,975 C420,980 470,975 510,990 C550,1010 580,1030 610,1020 C650,990 700,960 760,950"/>
  </g>
</g>

<g id="arrow">
  <path d="M211.7,269 C224,283 245,290 270,292.5 C330,297 420,287.5 494,278.3" fill="none" stroke="#000" stroke-width="1.7"/>
  <path d="M504.5,276.3 L490,270.6 L494.6,278.2 L491.6,285.3 Z" fill="#000"/>
  <path d="M535.8,293.8 L645.8,275.8" stroke="#6a0d12" stroke-width="4.4" fill="none"/>
  <path d="M540.8,319.3 L652,313.8" stroke="#6a0d12" stroke-width="4.4" fill="none"/>
</g>

<g id="arterysec" transform="translate(640,230) scale(0.0825)">
  <circle cx="652" cy="615" r="423" fill="#ef7f69"/>
  <circle cx="652" cy="615" r="372" fill="#e6685a"/>
  <circle cx="652" cy="615" r="330" fill="#e86e5e"/>
  <circle cx="652" cy="615" r="296" fill="#e56556"/>
  <circle cx="650" cy="610" r="262" fill="#f4b7a8"/>
  <clipPath id="lumen"><circle cx="650" cy="610" r="252"/></clipPath>
  <g clip-path="url(#lumen)">
    <rect x="380" y="340" width="540" height="540" fill="#f1de7b"/>
    <path d="M770,560 C800,600 770,640 775,700 C780,760 770,800 760,870 L930,870 L930,560 Z" fill="#f6c8a4"/>
    <path d="M800,660 C830,640 870,640 900,650 L900,760 C870,800 830,810 790,800 C780,760 785,700 800,660 Z" fill="#efe27e"/>
    <path d="M380,600 C400,470 470,390 560,385 C620,385 640,425 690,435 C740,440 770,420 810,428 C870,440 905,520 900,600 C890,640 850,640 820,615 C790,590 790,540 750,520 C720,530 700,570 660,565 C620,560 600,555 560,575 C520,600 440,615 380,600 Z" fill="#8c2b33"/>
    <path d="M700,575 C730,560 745,530 760,505 C775,520 760,555 740,585 Z" fill="#f3dc85"/>
    <path d="M470,520 C500,500 540,505 560,530 M590,520 C610,540 640,545 660,530 M780,510 L800,525 M810,550 L825,560 M790,560 L800,575" stroke="#c8646c" stroke-width="14" fill="none" stroke-linecap="round"/>
    <circle cx="800" cy="520" r="9" fill="#fbeee0"/><circle cx="815" cy="565" r="8" fill="#fbeee0"/><circle cx="600" cy="525" r="8" fill="#f7d9c8"/><circle cx="650" cy="545" r="9" fill="#f08aa0"/>
  </g>
  <circle cx="650" cy="610" r="257" fill="none" stroke="#f8c2b6" stroke-width="9"/>
</g>

<g id="chartA">
<path d="M848.6,558.3 L848.6,839.2" stroke="#1a1a1a" stroke-width="1.25" fill="none"/>
<path d="M846.8,561.8 L848.6,557.3 L850.4,561.8" stroke="#222" stroke-width="0.8" fill="none"/>
<path d="M848.6,839.2 L1238.4,842.4" stroke="#1a1a1a" stroke-width="1.25" fill="none"/>
<path d="M1234.9,840.5 L1239.4,842.4 L1234.9,844.3" stroke="#222" stroke-width="0.8" fill="none"/>
<path d="M844.2,571.1 L848.6,571.1" stroke="#1a1a1a" stroke-width="1"/>
<text x="843.0" y="574.2" font-size="9.1" text-anchor="end" font-family="Liberation Sans, Arial, sans-serif" fill="#111" stroke="#111" stroke-width="0.2">.15</text>
<path d="M844.2,654.2 L848.6,654.2" stroke="#1a1a1a" stroke-width="1"/>
<text x="843.0" y="657.3" font-size="9.1" text-anchor="end" font-family="Liberation Sans, Arial, sans-serif" fill="#111" stroke="#111" stroke-width="0.2">.1</text>
<path d="M844.2,737.0 L848.6,737.0" stroke="#1a1a1a" stroke-width="1"/>
<text x="843.0" y="740.1" font-size="9.1" text-anchor="end" font-family="Liberation Sans, Arial, sans-serif" fill="#111" stroke="#111" stroke-width="0.2">.05</text>
<path d="M844.2,818.8 L848.6,818.8" stroke="#1a1a1a" stroke-width="1"/>
<text x="843.0" y="821.9" font-size="9.1" text-anchor="end" font-family="Liberation Sans, Arial, sans-serif" fill="#111" stroke="#111" stroke-width="0.2">0</text>
<path d="M854.9,839.3 L854.9,843.5" stroke="#1a1a1a" stroke-width="1"/>
<text x="854.9" y="854.0" font-size="9.2" text-anchor="middle" font-family="Liberation Sans, Arial, sans-serif" fill="#111" stroke="#111" stroke-width="0.2">0</text>
<path d="M980.0,840.3 L980.0,844.5" stroke="#1a1a1a" stroke-width="1"/>
<text x="980.0" y="854.0" font-size="9.2" text-anchor="middle" font-family="Liberation Sans, Arial, sans-serif" fill="#111" stroke="#111" stroke-width="0.2">5</text>
<path d="M1104.8,841.3 L1104.8,845.5" stroke="#1a1a1a" stroke-width="1"/>
<text x="1104.8" y="854.0" font-size="9.2" text-anchor="middle" font-family="Liberation Sans, Arial, sans-serif" fill="#111" stroke="#111" stroke-width="0.2">10</text>
<path d="M1229.6,842.3 L1229.6,846.5" stroke="#1a1a1a" stroke-width="1"/>
<text x="1229.6" y="854.0" font-size="9.2" text-anchor="middle" font-family="Liberation Sans, Arial, sans-serif" fill="#111" stroke="#111" stroke-width="0.2">15</text>
<text x="814.5" y="548.8" font-size="11.2" font-weight="bold" font-family="Liberation Sans, Arial, sans-serif" fill="#111">(A)</text>
<text x="829.2" y="559.8" font-size="7.2" font-family="Liberation Sans, Arial, sans-serif" fill="#111">(10<tspan font-size="4.5" dy="-2.6">3</tspan><tspan dy="2.6">)</tspan></text>
<text x="1042.4" y="863.8" font-size="9.1" text-anchor="middle" font-family="Liberation Sans, Arial, sans-serif" fill="#111" stroke="#111" stroke-width="0.2">Follow-up (years)</text>
<text transform="translate(818.6,701.2) rotate(-90)" font-size="9.15" text-anchor="middle" font-family="Liberation Sans, Arial, sans-serif" fill="#111" stroke="#111" stroke-width="0.2">Incidence of Arterial Thromboembolism (per 1000 person-years)</text>
<path d="M848.6,818.8 L1238.4,822.0" stroke="#9a2a55" stroke-width="1.3" stroke-dasharray="2.3 2.1" fill="none"/>
<path d="M859.6,831.1C859.8,818.4 860.2,777.8 860.6,755.2C860.9,732.6 861.4,710.5 861.8,695.6C862.2,680.7 862.2,667.9 862.8,665.8C863.3,663.7 864.2,675.5 865.3,683.1C866.3,690.6 867.6,701.1 869.0,711.3C870.5,721.5 872.1,735.6 874.0,744.2C876.0,752.8 878.2,758.3 880.9,763.0C883.7,767.7 886.7,770.0 890.3,772.4C894.0,774.9 897.7,776.2 902.9,777.8C908.1,779.3 914.4,780.6 921.7,781.5C929.0,782.5 932.2,782.8 946.8,783.4C961.4,784.0 983.4,784.7 1009.5,785.3C1035.6,785.9 1066.9,786.6 1103.6,787.2C1140.3,787.7 1208.6,788.2 1229.6,788.4" stroke="#2a712a" stroke-width="1.35" stroke-dasharray="2.4 2.1" fill="none"/>
<path d="M859.6,831.1C859.8,823.6 860.1,800.5 860.6,786.5C861.0,772.6 861.3,752.0 862.1,747.3C862.9,742.6 864.0,753.6 865.3,758.3C866.6,763.0 867.9,769.8 870.0,775.6C872.1,781.3 874.4,787.6 877.8,792.8C881.2,798.0 885.6,803.0 890.3,806.9C895.0,810.8 899.8,813.9 906.0,816.3C912.3,818.8 916.0,820.1 928.0,821.7C940.0,823.2 948.9,824.6 978.1,825.7C1007.4,826.8 1061.7,827.6 1103.6,828.2C1145.5,828.9 1208.6,829.3 1229.6,829.5" stroke="#2a712a" stroke-width="1.35" stroke-dasharray="2.4 2.1" fill="none"/>
<path d="M859.3,795.9C859.5,786.5 860.1,754.4 860.6,739.5C861.0,724.6 861.4,710.0 862.1,706.6C862.8,703.2 863.7,714.2 864.6,719.1C865.6,724.1 866.5,729.8 867.8,736.4C869.0,742.9 870.5,752.0 872.2,758.3C873.8,764.6 875.8,769.9 877.8,774.0C879.8,778.1 881.5,779.9 884.1,782.8C886.7,785.7 889.3,789.2 893.5,791.6C897.7,794.0 903.4,795.6 909.2,797.2C914.9,798.8 919.6,799.9 928.0,801.0C936.3,802.1 945.7,803.0 959.3,803.8C972.9,804.6 985.5,805.1 1009.5,805.7C1033.5,806.2 1066.9,806.7 1103.6,807.2C1140.3,807.8 1208.6,808.5 1229.6,808.8" stroke="#8e2b3e" stroke-width="1.15" fill="none"/>
<g fill="#1b2540"><circle cx="863.1" cy="594.3" r="1.7"/><circle cx="868.7" cy="663.9" r="1.7"/><circle cx="880.9" cy="711.6" r="1.7"/><circle cx="868.4" cy="727.9" r="1.7"/><circle cx="862.8" cy="748.3" r="1.7"/><circle cx="861.5" cy="755.8" r="1.7"/><circle cx="872.5" cy="759.9" r="1.7"/><circle cx="880.9" cy="755.8" r="1.7"/><circle cx="868.4" cy="781.8" r="1.7"/><circle cx="876.2" cy="791.9" r="1.7"/><circle cx="880.3" cy="790.3" r="1.7"/><circle cx="892.9" cy="795.9" r="1.7"/><circle cx="905.4" cy="787.2" r="1.7"/><circle cx="905.4" cy="798.1" r="1.7"/><circle cx="922.3" cy="785.0" r="1.7"/><circle cx="925.5" cy="765.5" r="1.7"/><circle cx="927.7" cy="776.5" r="1.7"/><circle cx="915.4" cy="811.6" r="1.7"/><circle cx="926.4" cy="817.0" r="1.7"/><circle cx="867.8" cy="807.2" r="1.7"/><circle cx="859.6" cy="813.5" r="1.7"/><circle cx="867.8" cy="817.9" r="1.7"/><circle cx="892.9" cy="817.9" r="1.7"/><circle cx="957.8" cy="818.5" r="1.7"/><circle cx="962.2" cy="799.4" r="1.7"/><circle cx="980.0" cy="793.8" r="1.7"/><circle cx="980.0" cy="809.4" r="1.7"/><circle cx="1104.8" cy="805.4" r="1.7"/><circle cx="1177.9" cy="819.8" r="1.7"/><circle cx="1229.6" cy="815.7" r="1.7"/></g>
</g>

<g id="chartB">
<path d="M1290.8,561.4 L1290.8,843.0" stroke="#1a1a1a" stroke-width="1.25" fill="none"/>
<path d="M1289.0,564.9 L1290.8,560.4 L1292.6,564.9" stroke="#222" stroke-width="0.8" fill="none"/>
<path d="M1290.8,843.0 L1688.4,847.1" stroke="#1a1a1a" stroke-width="1.25" fill="none"/>
<path d="M1684.9,845.2 L1689.4,847.1 L1684.9,849.0" stroke="#222" stroke-width="0.8" fill="none"/>
<path d="M1286.4,574.9 L1290.8,574.9" stroke="#1a1a1a" stroke-width="1"/>
<text x="1285.2" y="578.0" font-size="9.1" text-anchor="end" font-family="Liberation Sans, Arial, sans-serif" fill="#111" stroke="#111" stroke-width="0.2">.4</text>
<path d="M1286.4,636.7 L1290.8,636.7" stroke="#1a1a1a" stroke-width="1"/>
<text x="1285.2" y="639.8" font-size="9.1" text-anchor="end" font-family="Liberation Sans, Arial, sans-serif" fill="#111" stroke="#111" stroke-width="0.2">.3</text>
<path d="M1286.4,698.1 L1290.8,698.1" stroke="#1a1a1a" stroke-width="1"/>
<text x="1285.2" y="701.2" font-size="9.1" text-anchor="end" font-family="Liberation Sans, Arial, sans-serif" fill="#111" stroke="#111" stroke-width="0.2">.2</text>
<path d="M1286.4,759.9 L1290.8,759.9" stroke="#1a1a1a" stroke-width="1"/>
<text x="1285.2" y="763.0" font-size="9.1" text-anchor="end" font-family="Liberation Sans, Arial, sans-serif" fill="#111" stroke="#111" stroke-width="0.2">.1</text>
<path d="M1286.4,821.7 L1290.8,821.7" stroke="#1a1a1a" stroke-width="1"/>
<text x="1285.2" y="824.8" font-size="9.1" text-anchor="end" font-family="Liberation Sans, Arial, sans-serif" fill="#111" stroke="#111" stroke-width="0.2">0</text>
<path d="M1297.4,843.1 L1297.4,847.3" stroke="#1a1a1a" stroke-width="1"/>
<text x="1297.4" y="858.1" font-size="9.2" text-anchor="middle" font-family="Liberation Sans, Arial, sans-serif" fill="#111" stroke="#111" stroke-width="0.2">0</text>
<path d="M1425.0,844.4 L1425.0,848.6" stroke="#1a1a1a" stroke-width="1"/>
<text x="1425.0" y="858.1" font-size="9.2" text-anchor="middle" font-family="Liberation Sans, Arial, sans-serif" fill="#111" stroke="#111" stroke-width="0.2">5</text>
<path d="M1552.6,845.7 L1552.6,849.9" stroke="#1a1a1a" stroke-width="1"/>
<text x="1552.6" y="858.1" font-size="9.2" text-anchor="middle" font-family="Liberation Sans, Arial, sans-serif" fill="#111" stroke="#111" stroke-width="0.2">10</text>
<path d="M1680.6,847.0 L1680.6,851.2" stroke="#1a1a1a" stroke-width="1"/>
<text x="1680.6" y="858.1" font-size="9.2" text-anchor="middle" font-family="Liberation Sans, Arial, sans-serif" fill="#111" stroke="#111" stroke-width="0.2">15</text>
<text x="1263.5" y="551.4" font-size="11.2" font-weight="bold" font-family="Liberation Sans, Arial, sans-serif" fill="#111">(B)</text>
<text x="1271.4" y="563.6" font-size="7.2" font-family="Liberation Sans, Arial, sans-serif" fill="#111">(10<tspan font-size="4.5" dy="-2.6">3</tspan><tspan dy="2.6">)</tspan></text>
<text x="1489.3" y="867.8" font-size="9.1" text-anchor="middle" font-family="Liberation Sans, Arial, sans-serif" fill="#111" stroke="#111" stroke-width="0.2">Follow-up (years)</text>
<text transform="translate(1269.2,705.0) rotate(-90)" font-size="9.15" text-anchor="middle" font-family="Liberation Sans, Arial, sans-serif" fill="#111" stroke="#111" stroke-width="0.2">Incidence of Venous Thromboembolism (per 1000 person-years)</text>
<path d="M1290.8,821.7 L1688.4,824.8" stroke="#9a2a55" stroke-width="1.3" stroke-dasharray="2.3 2.1" fill="none"/>
<path d="M1302.1,836.7C1302.2,825.7 1302.7,790.2 1303.0,770.9C1303.3,751.5 1303.7,732.7 1304.0,720.7C1304.3,708.7 1304.4,700.0 1304.9,698.7C1305.4,697.4 1306.1,706.6 1307.1,712.9C1308.1,719.1 1309.0,727.2 1310.9,736.4C1312.8,745.5 1315.8,759.9 1318.4,767.7C1321.0,775.6 1323.1,779.2 1326.2,783.4C1329.4,787.6 1332.8,790.5 1337.2,792.8C1341.7,795.2 1345.6,796.4 1352.9,797.5C1360.2,798.7 1363.3,798.9 1381.1,799.7C1398.9,800.5 1418.4,801.4 1459.5,802.2C1500.6,803.1 1599.8,804.3 1627.9,804.7" stroke="#2a712a" stroke-width="1.35" stroke-dasharray="2.4 2.1" fill="none"/>
<path d="M1302.1,836.7C1302.2,828.9 1302.5,805.9 1302.7,789.7C1303.0,773.5 1303.2,747.1 1303.7,739.5C1304.1,731.9 1304.4,741.1 1305.2,744.2C1306.0,747.3 1306.7,752.3 1308.4,758.3C1310.0,764.3 1312.5,773.5 1315.3,780.3C1318.0,787.1 1321.0,794.4 1324.7,799.1C1328.3,803.8 1331.5,805.9 1337.2,808.5C1343.0,811.1 1349.2,812.9 1359.2,814.8C1369.1,816.6 1380.1,818.3 1396.8,819.5C1413.5,820.7 1421.0,821.2 1459.5,822.0C1498.0,822.8 1599.8,823.8 1627.9,824.2" stroke="#2a6a2c" stroke-width="1.35" stroke-dasharray="2.4 2.1" fill="none"/>
<path d="M1302.1,780.3C1302.2,774.5 1302.7,756.0 1303.0,745.8C1303.4,735.6 1303.7,722.0 1304.3,719.1C1304.9,716.2 1305.6,724.3 1306.5,728.5C1307.4,732.7 1308.2,737.7 1309.6,744.2C1311.1,750.7 1313.2,760.9 1315.3,767.7C1317.3,774.5 1319.0,780.0 1322.2,785.0C1325.3,789.9 1329.5,794.4 1334.1,797.5C1338.7,800.7 1343.5,802.0 1349.8,803.8C1356.0,805.6 1358.6,807.2 1371.7,808.5C1384.8,809.8 1403.1,810.8 1428.1,811.6C1453.2,812.5 1488.9,813.1 1522.2,813.5C1555.5,813.9 1610.3,814.0 1627.9,814.1" stroke="#8e2b3e" stroke-width="1.15" fill="none"/>
<g fill="#1b2540"><circle cx="1305.2" cy="605.3" r="1.15"/><circle cx="1311.2" cy="659.5" r="1.15"/><circle cx="1323.7" cy="683.7" r="1.15"/><circle cx="1309.9" cy="694.7" r="1.15"/><circle cx="1323.7" cy="703.8" r="1.15"/><circle cx="1304.9" cy="698.1" r="1.15"/><circle cx="1304.3" cy="702.8" r="1.15"/><circle cx="1323.4" cy="735.7" r="1.15"/><circle cx="1339.1" cy="742.3" r="1.15"/><circle cx="1310.2" cy="733.9" r="1.15"/><circle cx="1310.9" cy="739.5" r="1.15"/><circle cx="1311.2" cy="745.1" r="1.15"/><circle cx="1311.5" cy="750.5" r="1.15"/><circle cx="1319.0" cy="751.4" r="1.15"/><circle cx="1304.3" cy="739.5" r="1.15"/><circle cx="1304.0" cy="745.8" r="1.15"/><circle cx="1303.7" cy="752.0" r="1.15"/><circle cx="1303.3" cy="758.3" r="1.15"/><circle cx="1303.0" cy="767.7" r="1.15"/><circle cx="1302.7" cy="777.1" r="1.15"/><circle cx="1302.4" cy="789.7" r="1.15"/><circle cx="1310.9" cy="758.3" r="1.15"/><circle cx="1311.5" cy="764.6" r="1.15"/><circle cx="1310.6" cy="772.4" r="1.15"/><circle cx="1323.4" cy="769.3" r="1.15"/><circle cx="1323.1" cy="774.6" r="1.15"/><circle cx="1322.8" cy="779.0" r="1.15"/><circle cx="1363.5" cy="774.0" r="1.15"/><circle cx="1370.8" cy="777.8" r="1.15"/><circle cx="1348.5" cy="785.9" r="1.15"/><circle cx="1348.5" cy="790.3" r="1.15"/><circle cx="1348.5" cy="795.9" r="1.15"/><circle cx="1348.5" cy="800.7" r="1.15"/><circle cx="1348.5" cy="805.4" r="1.15"/><circle cx="1348.5" cy="810.1" r="1.15"/><circle cx="1348.5" cy="814.8" r="1.15"/><circle cx="1348.5" cy="819.5" r="1.15"/><circle cx="1323.4" cy="786.5" r="1.15"/><circle cx="1323.1" cy="792.8" r="1.15"/><circle cx="1322.8" cy="800.7" r="1.15"/><circle cx="1322.8" cy="805.4" r="1.15"/><circle cx="1322.8" cy="811.6" r="1.15"/><circle cx="1322.8" cy="817.3" r="1.15"/><circle cx="1310.2" cy="791.2" r="1.15"/><circle cx="1310.2" cy="796.6" r="1.15"/><circle cx="1310.2" cy="806.9" r="1.15"/><circle cx="1310.2" cy="814.8" r="1.15"/><circle cx="1353.5" cy="806.9" r="1.15"/><circle cx="1357.6" cy="800.0" r="1.15"/><circle cx="1361.0" cy="799.1" r="1.15"/><circle cx="1371.7" cy="798.5" r="1.15"/><circle cx="1374.2" cy="811.0" r="1.15"/><circle cx="1374.2" cy="816.3" r="1.15"/><circle cx="1364.8" cy="816.3" r="1.15"/><circle cx="1336.0" cy="818.5" r="1.15"/><circle cx="1342.9" cy="817.9" r="1.15"/><circle cx="1379.5" cy="817.9" r="1.15"/><circle cx="1403.1" cy="819.5" r="1.15"/><circle cx="1407.8" cy="820.1" r="1.15"/><circle cx="1425.0" cy="807.6" r="1.15"/><circle cx="1425.0" cy="816.3" r="1.15"/><circle cx="1425.0" cy="820.1" r="1.15"/><circle cx="1443.2" cy="806.3" r="1.15"/><circle cx="1448.5" cy="821.7" r="1.15"/><circle cx="1481.5" cy="819.5" r="1.15"/><circle cx="1494.6" cy="821.7" r="1.15"/><circle cx="1509.7" cy="822.6" r="1.15"/><circle cx="1522.2" cy="822.9" r="1.15"/><circle cx="1534.8" cy="822.9" r="1.15"/><circle cx="1552.6" cy="821.7" r="1.15"/><circle cx="1569.3" cy="823.5" r="1.15"/><circle cx="1584.9" cy="823.5" r="1.15"/><circle cx="1600.6" cy="823.5" r="1.15"/><circle cx="1627.9" cy="823.9" r="1.15"/></g>
</g>

</svg>

</div>
</body>
</html>
